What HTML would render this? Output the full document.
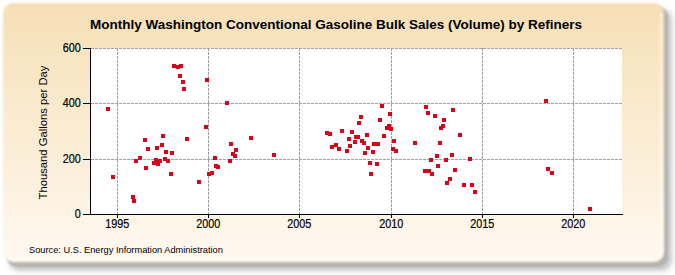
<!DOCTYPE html>
<html><head><meta charset="utf-8"><style>
html,body{margin:0;padding:0;background:#fff;}
body{width:675px;height:275px;overflow:hidden;position:relative;}
svg{position:absolute;left:0;top:0;}
text{font-family:"Liberation Sans",sans-serif;fill:#000;}
.lbl text{stroke:#000;stroke-width:0.2px;}
</style></head><body>
<svg width="675" height="275" viewBox="0 0 675 275">
<defs>
<linearGradient id="bg" x1="0" y1="0" x2="0" y2="1">
<stop offset="0" stop-color="#F6DFB6"/>
<stop offset="1" stop-color="#FFF9F0"/>
</linearGradient>
<filter id="sh" x="-5%" y="-5%" width="110%" height="115%">
<feGaussianBlur stdDeviation="2.6"/>
</filter>
<filter id="sh2" x="-5%" y="-5%" width="110%" height="115%"><feGaussianBlur stdDeviation="1.3"/></filter>
<filter id="pb" x="-2%" y="-2%" width="104%" height="104%"><feGaussianBlur stdDeviation="0.9"/></filter>
</defs>
<rect x="9" y="9" width="663" height="262" rx="10" fill="#c8cace" filter="url(#sh)"/>
<rect x="7" y="7" width="661" height="260" rx="10" fill="#b8b4ac" filter="url(#sh2)"/>
<rect x="3" y="3" width="661" height="259" rx="10" fill="url(#bg)" filter="url(#pb)"/>
<path d="M661 14 L661 251 Q661 259 653 259 L14 259" fill="none" stroke="#fffdf8" stroke-opacity="0.7" stroke-width="1.5" filter="url(#pb)"/>
<rect x="91" y="48" width="531" height="166" fill="#fff"/>
<g stroke="#a0a0a0" stroke-width="1" stroke-dasharray="3,1">
<line x1="91" y1="48.5" x2="622" y2="48.5"/>
<line x1="91" y1="103.5" x2="622" y2="103.5"/>
<line x1="91" y1="159.5" x2="622" y2="159.5"/>
<line x1="117.5" y1="48" x2="117.5" y2="214"/>
<line x1="208.5" y1="48" x2="208.5" y2="214"/>
<line x1="299.5" y1="48" x2="299.5" y2="214"/>
<line x1="391.5" y1="48" x2="391.5" y2="214"/>
<line x1="482.5" y1="48" x2="482.5" y2="214"/>
<line x1="573.5" y1="48" x2="573.5" y2="214"/>
</g>
<g stroke="#000" stroke-width="1">
<line x1="90.5" y1="48" x2="90.5" y2="214.5"/>
<line x1="83" y1="214.5" x2="623" y2="214.5"/>
<line x1="117.5" y1="214" x2="117.5" y2="218"/>
<line x1="208.5" y1="214" x2="208.5" y2="218"/>
<line x1="299.5" y1="214" x2="299.5" y2="218"/>
<line x1="391.5" y1="214" x2="391.5" y2="218"/>
<line x1="482.5" y1="214" x2="482.5" y2="218"/>
<line x1="573.5" y1="214" x2="573.5" y2="218"/>
<line x1="83" y1="48.5" x2="91" y2="48.5"/>
<line x1="83" y1="103.5" x2="91" y2="103.5"/>
<line x1="83" y1="159.5" x2="91" y2="159.5"/>
</g>
<g fill="#DC0018">
<rect x="106" y="107" width="4" height="4"/>
<rect x="111" y="175" width="4" height="4"/>
<rect x="131" y="195" width="4" height="4"/>
<rect x="132" y="199" width="4" height="4"/>
<rect x="134" y="159" width="4" height="4"/>
<rect x="138" y="156" width="4" height="4"/>
<rect x="143" y="138" width="4" height="4"/>
<rect x="144" y="166" width="4" height="4"/>
<rect x="146" y="147" width="4" height="4"/>
<rect x="152" y="161" width="4" height="4"/>
<rect x="154" y="158" width="4" height="4"/>
<rect x="155" y="146" width="4" height="4"/>
<rect x="156" y="162" width="4" height="4"/>
<rect x="158" y="159" width="4" height="4"/>
<rect x="160" y="143" width="4" height="4"/>
<rect x="161" y="134" width="4" height="4"/>
<rect x="163" y="157" width="4" height="4"/>
<rect x="164" y="150" width="4" height="4"/>
<rect x="166" y="159" width="4" height="4"/>
<rect x="169" y="172" width="4" height="4"/>
<rect x="170" y="151" width="4" height="4"/>
<rect x="172" y="64" width="4" height="4"/>
<rect x="176" y="65" width="4" height="4"/>
<rect x="179" y="64" width="4" height="4"/>
<rect x="178" y="74" width="4" height="4"/>
<rect x="181" y="80" width="4" height="4"/>
<rect x="182" y="87" width="4" height="4"/>
<rect x="185" y="137" width="4" height="4"/>
<rect x="197" y="180" width="4" height="4"/>
<rect x="204" y="125" width="4" height="4"/>
<rect x="205" y="78" width="4" height="4"/>
<rect x="207" y="172" width="4" height="4"/>
<rect x="210" y="171" width="4" height="4"/>
<rect x="213" y="156" width="4" height="4"/>
<rect x="214" y="164" width="4" height="4"/>
<rect x="216" y="165" width="4" height="4"/>
<rect x="225" y="101" width="4" height="4"/>
<rect x="228" y="159" width="4" height="4"/>
<rect x="229" y="142" width="4" height="4"/>
<rect x="231" y="152" width="4" height="4"/>
<rect x="233" y="154" width="4" height="4"/>
<rect x="234" y="148" width="4" height="4"/>
<rect x="249" y="136" width="4" height="4"/>
<rect x="272" y="153" width="4" height="4"/>
<rect x="325" y="131" width="4" height="4"/>
<rect x="328" y="132" width="4" height="4"/>
<rect x="330" y="145" width="4" height="4"/>
<rect x="334" y="143" width="4" height="4"/>
<rect x="337" y="147" width="4" height="4"/>
<rect x="340" y="129" width="4" height="4"/>
<rect x="345" y="149" width="4" height="4"/>
<rect x="347" y="137" width="4" height="4"/>
<rect x="348" y="144" width="4" height="4"/>
<rect x="350" y="130" width="4" height="4"/>
<rect x="353" y="140" width="4" height="4"/>
<rect x="354" y="135" width="4" height="4"/>
<rect x="356" y="135" width="4" height="4"/>
<rect x="357" y="121" width="4" height="4"/>
<rect x="359" y="115" width="4" height="4"/>
<rect x="360" y="139" width="4" height="4"/>
<rect x="362" y="141" width="4" height="4"/>
<rect x="363" y="151" width="4" height="4"/>
<rect x="365" y="133" width="4" height="4"/>
<rect x="366" y="146" width="4" height="4"/>
<rect x="368" y="161" width="4" height="4"/>
<rect x="369" y="172" width="4" height="4"/>
<rect x="371" y="150" width="4" height="4"/>
<rect x="372" y="142" width="4" height="4"/>
<rect x="375" y="162" width="4" height="4"/>
<rect x="376" y="142" width="4" height="4"/>
<rect x="378" y="118" width="4" height="4"/>
<rect x="380" y="104" width="4" height="4"/>
<rect x="382" y="134" width="4" height="4"/>
<rect x="385" y="126" width="4" height="4"/>
<rect x="387" y="124" width="4" height="4"/>
<rect x="388" y="112" width="4" height="4"/>
<rect x="389" y="127" width="4" height="4"/>
<rect x="391" y="147" width="4" height="4"/>
<rect x="392" y="139" width="4" height="4"/>
<rect x="394" y="149" width="4" height="4"/>
<rect x="413" y="141" width="4" height="4"/>
<rect x="423" y="169" width="4" height="4"/>
<rect x="424" y="105" width="4" height="4"/>
<rect x="426" y="111" width="4" height="4"/>
<rect x="427" y="169" width="4" height="4"/>
<rect x="429" y="158" width="4" height="4"/>
<rect x="430" y="172" width="4" height="4"/>
<rect x="433" y="114" width="4" height="4"/>
<rect x="435" y="154" width="4" height="4"/>
<rect x="436" y="164" width="4" height="4"/>
<rect x="438" y="141" width="4" height="4"/>
<rect x="439" y="126" width="4" height="4"/>
<rect x="441" y="124" width="4" height="4"/>
<rect x="442" y="118" width="4" height="4"/>
<rect x="444" y="158" width="4" height="4"/>
<rect x="445" y="181" width="4" height="4"/>
<rect x="448" y="177" width="4" height="4"/>
<rect x="450" y="153" width="4" height="4"/>
<rect x="451" y="108" width="4" height="4"/>
<rect x="453" y="168" width="4" height="4"/>
<rect x="458" y="133" width="4" height="4"/>
<rect x="462" y="183" width="4" height="4"/>
<rect x="468" y="157" width="4" height="4"/>
<rect x="470" y="183" width="4" height="4"/>
<rect x="473" y="190" width="4" height="4"/>
<rect x="544" y="99" width="4" height="4"/>
<rect x="546" y="167" width="4" height="4"/>
<rect x="550" y="171" width="4" height="4"/>
<rect x="588" y="207" width="4" height="4"/>
</g>
<text x="90" y="28.7" style="font-weight:bold;font-size:13.5px">Monthly Washington Conventional Gasoline Bulk Sales (Volume) by Refiners</text>
<g class="lbl" style="font-size:12px">
<text transform="translate(117.3,227.6) scale(0.9,1)" text-anchor="middle">1995</text>
<text transform="translate(208.3,227.6) scale(0.9,1)" text-anchor="middle">2000</text>
<text transform="translate(299.3,227.6) scale(0.9,1)" text-anchor="middle">2005</text>
<text transform="translate(391.3,227.6) scale(0.9,1)" text-anchor="middle">2010</text>
<text transform="translate(482.3,227.6) scale(0.9,1)" text-anchor="middle">2015</text>
<text transform="translate(573.3,227.6) scale(0.9,1)" text-anchor="middle">2020</text>
<text transform="translate(80.8,52.1) scale(0.9,1)" text-anchor="end">600</text>
<text transform="translate(80.8,107.1) scale(0.9,1)" text-anchor="end">400</text>
<text transform="translate(80.8,163.1) scale(0.9,1)" text-anchor="end">200</text>
<text transform="translate(80.8,218.1) scale(0.9,1)" text-anchor="end">0</text>
</g>
<text transform="translate(46.8,132.5) rotate(-90)" text-anchor="middle" style="font-size:11.25px">Thousand Gallons per Day</text>
<text transform="translate(29,253) scale(0.965,1)" style="font-size:9.6px">Source: U.S. Energy Information Administration</text>
</svg>
</body></html>
